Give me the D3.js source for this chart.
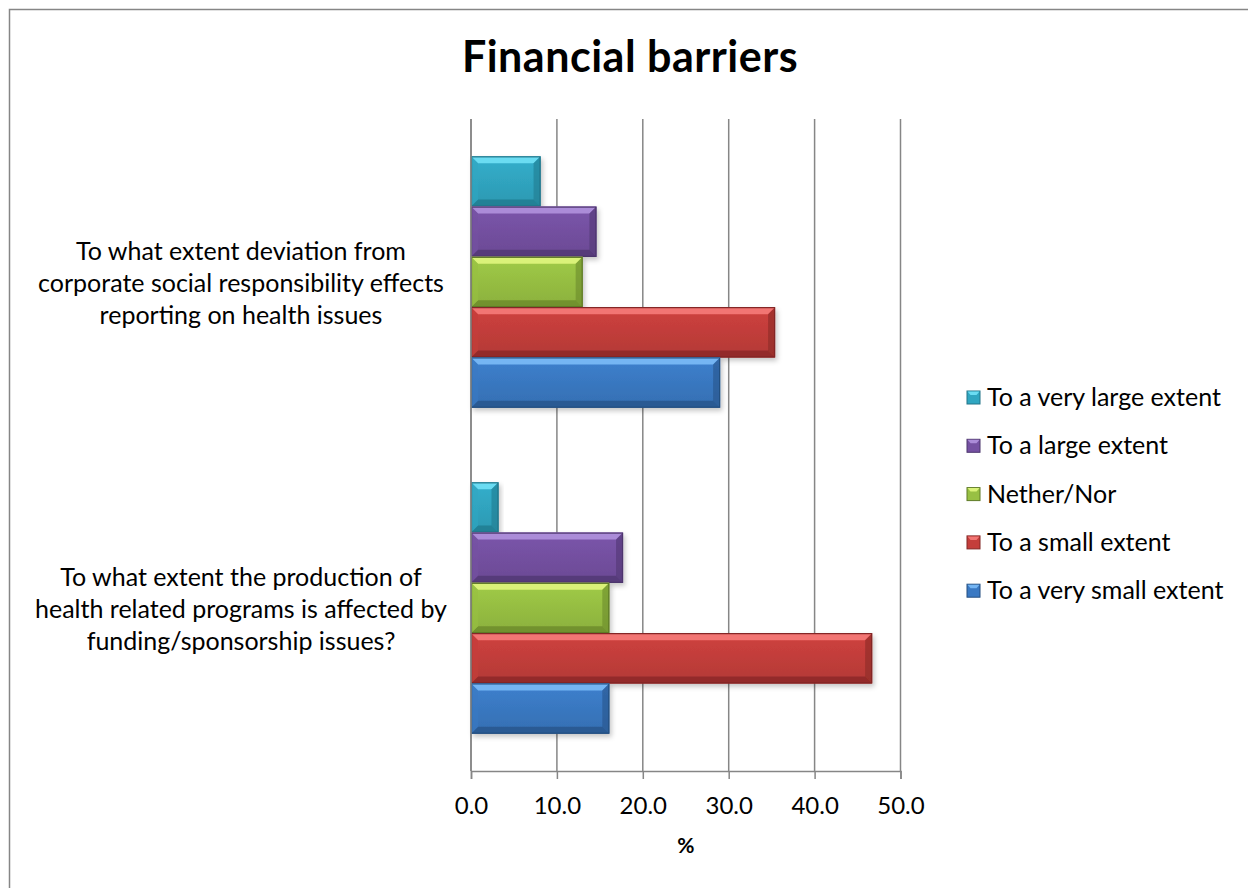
<!DOCTYPE html>
<html>
<head>
<meta charset="utf-8">
<script src="https://cdn.jsdelivr.net/npm/d3@7"></script>
<style>
  html, body { margin: 0; padding: 0; background: #fff; }
  svg { display: block; font-family: Lato, "Open Sans", sans-serif; }
</style>
</head>
<body>
<svg id="chart" width="1248" height="888"></svg>
<script>
// Survey questions (top to bottom) and their wrapped label lines
const categories = ["deviation", "production"];
const categoryLines = [
  ["To what extent deviation from", "corporate social responsibility effects", "reporting on health issues"],
  ["To what extent the production of", "health related programs is affected by", "funding/sponsorship issues?"]
];

// Response shares (%) per question, same order as categories
const series = ["To a very large extent", "To a large extent", "Nether/Nor", "To a small extent", "To a very small extent"];
const veryLarge = [8.1, 3.2];
const large = [14.6, 17.7];
const neither = [13.0, 16.1];
const small = [35.4, 46.7];
const verySmall = [29.0, 16.1];
const seriesValues = [veryLarge, large, neither, small, verySmall];

const xTicks = [0, 10, 20, 30, 40, 50];

// Face / highlight / shade colours for each series
const palette = [
  { face: "#30a6c1", light: "#6bdcf2", dark: "#1f7b8f", line: "#237488" },
  { face: "#7551a2", light: "#ab8cd8", dark: "#513773", line: "#4d366d" },
  { face: "#98c043", light: "#daf279", dark: "#6b8a2b", line: "#5f7a27" },
  { face: "#c43e3b", light: "#f27573", dark: "#8b2927", line: "#822725" },
  { face: "#3a79c3", light: "#74b5f3", dark: "#28558b", line: "#254f80" }
];

const svg = d3.select("#chart");
const plot = { left: 471, right: 900.5, top: 119, bottom: 771 };

// chart frame
svg.append("rect")
  .attr("x", 9.5).attr("y", 9.5).attr("width", 1260).attr("height", 900)
  .attr("fill", "#fff").attr("stroke", "#868686").attr("stroke-width", 1.5);

// soft drop shadow for bars
const defs = svg.append("defs");
const f = defs.append("filter").attr("id", "barShadow")
  .attr("x", "-10%").attr("y", "-20%").attr("width", "130%").attr("height", "160%");
f.append("feDropShadow").attr("dx", 2).attr("dy", 3).attr("stdDeviation", 2.5)
  .attr("flood-color", "#000").attr("flood-opacity", 0.22);

palette.forEach((p, i) => {
  const g = defs.append("linearGradient").attr("id", "face" + i)
    .attr("x1", 0).attr("y1", 0).attr("x2", 0).attr("y2", 1);
  g.append("stop").attr("offset", "0%").attr("stop-color", d3.color(p.face).brighter(0.15));
  g.append("stop").attr("offset", "100%").attr("stop-color", d3.color(p.face).darker(0.25));
});

// title
svg.append("text")
  .attr("x", 630).attr("y", 72)
  .attr("text-anchor", "middle")
  .attr("font-size", 43).attr("font-weight", "bold").attr("fill", "#000")
  .attr("letter-spacing", 0.5)
  .text("Financial barriers");

// scales
const x = d3.scaleLinear().domain([0, 50]).range([plot.left, plot.right]);
const y = d3.scaleBand().domain(categories).range([plot.top, plot.bottom])
  .paddingInner(0.229).paddingOuter(0.1145);
const ySub = d3.scaleBand().domain(series).range([0, y.bandwidth()]);

// vertical gridlines
svg.append("g").selectAll("line").data(xTicks).join("line")
  .attr("x1", d => x(d)).attr("x2", d => x(d))
  .attr("y1", plot.top).attr("y2", plot.bottom)
  .attr("stroke", "#868686").attr("stroke-width", 1.5);

// bottom axis
const xAxis = svg.append("g")
  .attr("transform", `translate(0,${plot.bottom})`)
  .call(d3.axisBottom(x).tickValues(xTicks).tickFormat(d3.format(".1f")).tickSize(8).tickPadding(18));
xAxis.select(".domain").attr("stroke", "#868686").attr("stroke-width", 1.5);
xAxis.selectAll(".tick line").attr("stroke", "#868686").attr("stroke-width", 1.5);
xAxis.selectAll(".tick text").attr("font-size", 24).attr("fill", "#000")
  .attr("font-family", "Lato, 'Open Sans', sans-serif");

// axis title
svg.append("text")
  .attr("x", x(25)).attr("y", 853)
  .attr("text-anchor", "middle")
  .attr("font-size", 21).attr("font-weight", "bold").attr("fill", "#000")
  .text("%");

// bars with bevelled edges
const bars = [];
categories.forEach((c, ci) => {
  series.forEach((s, si) => {
    bars.push({ cat: c, ser: s, si, value: seriesValues[si][ci] });
  });
});

const barG = svg.append("g").selectAll("g").data(bars).join("g")
  .attr("transform", d => `translate(${x(0)},${y(d.cat) + ySub(d.ser)})`)
  .attr("filter", "url(#barShadow)");

barG.each(function (d) {
  const g = d3.select(this);
  const w = x(d.value) - x(0);
  const h = ySub.bandwidth();
  const b = Math.min(7, w / 2);
  const p = palette[d.si];
  g.append("rect").attr("width", w).attr("height", h).attr("fill", `url(#face${d.si})`);
  g.append("polygon")
    .attr("points", [[0, 0], [w, 0], [w - b, b], [b, b]].join(" "))
    .attr("fill", p.light);
  g.append("polygon")
    .attr("points", [[0, h], [w, h], [w - b, h - b], [b, h - b]].join(" "))
    .attr("fill", p.dark).attr("opacity", 0.8);
  g.append("polygon")
    .attr("points", [[w, 0], [w, h], [w - b, h - b], [w - b, b]].join(" "))
    .attr("fill", p.dark).attr("opacity", 0.6);
  g.append("polygon")
    .attr("points", [[0, 0], [0, h], [b, h - b], [b, b]].join(" "))
    .attr("fill", p.face).attr("opacity", 0.6);
  g.append("rect").attr("x", 0.5).attr("y", 0.5).attr("width", Math.max(0, w - 1)).attr("height", h - 1)
    .attr("fill", "none").attr("stroke", p.line).attr("stroke-width", 1.2);
});

// vertical axis line over bar starts
svg.append("line")
  .attr("x1", x(0)).attr("x2", x(0)).attr("y1", plot.top).attr("y2", plot.bottom)
  .attr("stroke", "#868686").attr("stroke-width", 1.5);

// category labels
categories.forEach((c, ci) => {
  const cy = y(c) + y.bandwidth() / 2;
  const lines = categoryLines[ci];
  const lh = 32;
  const t = svg.append("text")
    .attr("text-anchor", "middle").attr("font-size", 25).attr("fill", "#000");
  lines.forEach((ln, li) => {
    t.append("tspan")
      .attr("x", 241)
      .attr("y", cy + (li - (lines.length - 1) / 2) * lh + 10)
      .text(ln);
  });
});

// legend
const legend = svg.append("g").selectAll("g").data(series).join("g")
  .attr("transform", (d, i) => `translate(967,${397 + i * 48.3})`);
legend.append("rect")
  .attr("x", 0).attr("y", -6).attr("width", 13).attr("height", 13)
  .attr("fill", (d, i) => palette[i].face)
  .attr("stroke", (d, i) => palette[i].line).attr("stroke-width", 1);
legend.append("polygon")
  .attr("points", "0.5,-5.5 12.5,-5.5 9.5,-2 3.5,-2")
  .attr("fill", (d, i) => palette[i].light);
legend.append("text")
  .attr("x", 20).attr("y", 9)
  .attr("font-size", 25).attr("fill", "#000")
  .text(d => d);
</script>
</body>
</html>
